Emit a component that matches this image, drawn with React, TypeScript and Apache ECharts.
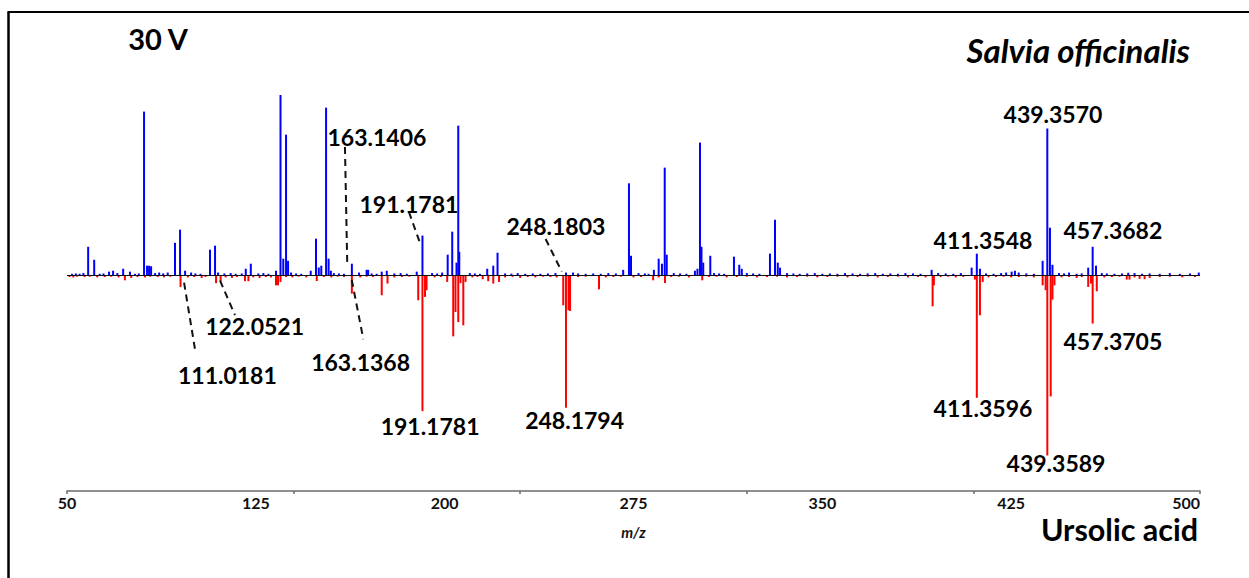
import React, { useEffect, useRef } from "react";
import * as echarts from "echarts";

// x-axis labels and tick marks (m/z)
const xLabelValues = [50, 125, 200, 275, 350, 425, 500];
const xTickValues = [50, 140, 230, 320, 410, 500];

// Salvia officinalis spectrum (upper, blue) – m/z and relative intensity (%)
const blueMz = [
  58.4, 60.8, 66.7, 68.3, 72.3, 75.0, 80.6, 81.8, 82.6, 83.4, 92.9, 94.9, 96.9,
  106.8, 108.8, 121.0, 123.0, 133.0, 134.8, 135.9, 137.0, 137.8, 146.8, 148.9,
  150.0, 151.0, 152.9, 153.9, 154.8, 163.1406, 169.0, 169.6, 175.0, 177.0, 188.9,
  191.1781, 201.2, 203.0, 204.7, 205.4, 205.8, 216.9, 219.3, 221.0, 248.1803,
  270.9, 273.2, 274.0, 283.1, 285.0, 286.3, 287.4, 288.2, 299.4, 300.4, 301.4,
  302.0, 302.7, 305.5, 314.9, 317.0, 318.0, 329.2, 331.2, 332.3, 333.2, 393.4,
  409.3, 411.3548, 412.6, 425.2, 437.5, 439.357, 440.4, 441.4, 455.6, 457.3682,
  458.7, 471.5,
];
const blueIntensity = [
  15.8, 8.6, 2.0, 2.5, 3.6, 2.0, 90.8, 5.3, 5.3, 5.0, 18.0, 25.3, 2.5,
  14.2, 16.4, 3.6, 6.4, 2.5, 100, 9.2, 78.0, 8.0, 2.5, 20.3,
  4.3, 5.3, 93.0, 9.2, 2.5, 6.4, 3.0, 3.0, 2.0, 2.5, 2.0,
  22.0, 11.4, 24.2, 7.0, 83.0, 13.0, 3.6, 5.3, 12.5, 1.5,
  3.0, 51.0, 10.8, 3.0, 9.2, 6.4, 59.7, 11.4, 2.5, 3.6, 73.6,
  15.8, 7.0, 10.8, 10.3, 5.8, 3.6, 12.0, 30.8, 7.0, 4.2, 3.0,
  4.2, 12.0, 3.6, 2.0, 8.0, 81.4, 26.4, 5.8, 4.2, 15.8,
  5.3, 1.4,
];

// Ursolic acid standard spectrum (lower, red) – m/z and relative intensity (%)
const redMz = [
  73.0, 95.1, 109.2, 111.0181, 120.7, 122.0521, 133.0, 133.8, 134.8, 149.2,
  163.1368, 175.0, 177.3, 189.5, 191.1781, 192.2, 192.8, 201.0, 203.4, 204.3,
  205.4, 206.3, 207.4, 208.3, 215.1, 217.3, 219.3, 221.6, 247.1, 248.1794, 249.2,
  249.8, 261.3, 282.8, 287.5, 302.3, 393.8, 394.3, 410.6, 411.3596, 412.6, 413.7,
  437.5, 438.7, 439.3589, 440.7, 441.4, 442.2, 455.6, 456.7, 457.3705, 459.0,
  470.9, 472.0,
];
const redIntensity = [
  -2.8, -6.5, -4.4, -3.3, -3.3, -3.3, -5.6, -5.6, -3.7, -3.2,
  -10.2, -11.1, -4.6, -13.9, -75.4, -12.0, -8.3, -3.7, -33.9, -20.4,
  -26.0, -4.4, -27.8, -3.7, -2.2, -3.3, -4.6, -3.7, -16.7, -73.5, -19.4,
  -19.8, -7.8, -2.8, -4.3, -2.8, -17.2, -5.6, -2.4, -68.0, -22.2, -3.7,
  -5.6, -8.3, -100, -67.2, -13.5, -5.6, -6.5, -4.6, -26.8, -8.9,
  -2.4, -2.4,
];

// baseline noise
const blueNoiseMz = [
  52, 53.5, 55, 56.5, 63, 64.5, 70, 77, 78.5, 85, 86.6, 88.2, 90, 99.3, 101, 103,
  110, 112.5, 115, 117, 119.4, 126, 128, 130, 139, 141, 143, 156, 158, 160, 166,
  171, 173, 180, 182.5, 185, 195, 197, 199, 210, 212, 214, 224, 226.5, 229, 232,
  235, 238, 241, 244, 251, 253, 256, 259, 262, 265, 268, 277, 279.5, 281, 291,
  293.5, 296, 307, 309, 311, 320, 322.5, 325, 336, 338.5, 341, 344, 347, 350,
  353, 356, 359, 362, 365, 368, 371, 374, 377, 380, 383, 386, 389, 396, 399, 402,
  405, 415, 418, 421, 423, 426.5, 428, 431, 434, 444, 446, 448, 451, 453, 461,
  463, 466, 469, 474, 477, 480, 484, 488, 492, 496, 499.5,
];
const blueNoiseIntensity = [
  0.8, 1.0, 0.8, 1.2, 0.8, 1.0, 1.2, 0.8, 1.0, 1.2, 1.5, 1.0, 1.5, 1.5, 1.0, 0.8,
  1.5, 1.0, 1.2, 0.8, 1.0, 1.0, 1.2, 0.8, 1.5, 1.0, 0.8, 1.2, 1.0, 0.8, 1.5,
  1.0, 0.8, 1.0, 1.2, 0.8, 1.2, 1.0, 1.5, 1.2, 1.0, 0.8, 1.0, 0.8, 1.2, 0.8,
  1.0, 0.8, 1.0, 1.2, 1.5, 1.0, 0.8, 1.0, 0.8, 1.2, 1.0, 1.2, 1.0, 0.8, 1.2,
  1.0, 0.8, 1.2, 1.0, 0.8, 1.2, 1.0, 0.8, 1.2, 1.0, 0.8, 1.0, 1.2, 0.8,
  1.0, 0.8, 1.2, 1.0, 0.8, 1.0, 1.2, 0.8, 1.0, 0.8, 1.2, 1.0, 0.8, 1.2, 1.0, 0.8,
  1.2, 1.0, 0.8, 1.2, 1.5, 2.5, 1.5, 1.0, 0.8, 1.2, 1.0, 1.5, 0.8, 1.0, 1.2,
  1.0, 0.8, 1.0, 1.2, 0.8, 1.0, 0.8, 1.2, 0.8, 1.0, 1.5,
];
const redNoiseMz = [
  51, 52.5, 54, 57, 59, 62, 65, 67.5, 70.5, 75.5, 78, 81, 83, 86, 88.5, 91, 98,
  100.5, 103.5, 105, 113, 115.5, 117.5, 124, 126.5, 129, 131, 137, 139.5, 142,
  145, 152, 155, 157.5, 160, 166.5, 169, 171.5, 180, 183, 186, 196, 198.5, 211,
  213, 224, 227, 230, 233, 236, 239, 242, 244.5, 253, 256, 264, 267, 270, 275,
  278, 285, 290, 293, 297, 305, 308, 312, 316, 320, 324, 328, 332, 336, 340, 344,
  348, 352, 356, 360, 364, 368, 372, 376, 380, 384, 388, 391, 397, 400, 403, 406,
  416, 419, 422, 425, 428, 431, 434, 445, 448, 451, 453, 462, 465, 468, 474, 476,
  478, 480, 484, 488, 493, 498,
];
const redNoiseIntensity = [
  -1.0, -1.2, -0.8, -1.0, -0.8, -1.2, -1.0, -0.8, -1.2, -1.5, -1.0, -1.2, -0.8,
  -1.0, -1.2, -0.8, -1.2, -1.0, -1.5, -1.0, -1.2, -1.5, -1.0, -1.2, -1.5, -1.0,
  -1.2, -1.0, -1.2, -0.8, -1.2, -1.0, -1.2, -0.8, -1.0, -1.2, -0.8, -1.0, -1.2,
  -1.0, -0.8, -1.2, -1.0, -1.2, -1.0, -1.2, -0.8, -1.5, -1.0, -1.2, -0.8, -1.0,
  -1.2, -1.0, -0.8, -1.2, -1.0, -0.8, -1.2, -1.0, -1.2, -1.0, -0.8, -1.2, -1.0,
  -0.8, -1.2, -1.0, -0.8, -1.2, -1.0, -0.8, -1.2, -1.0, -0.8, -1.2, -1.0, -0.8,
  -1.2, -1.0, -0.8, -1.2, -1.0, -0.8, -1.2, -1.0, -1.2, -1.0, -0.8, -1.2, -1.0,
  -1.2, -1.0, -0.8, -1.2, -1.0, -0.8, -1.2, -1.2, -1.0, -1.5, -1.0, -1.2, -1.0,
  -0.8, -1.2, -2.0, -2.2, -1.5, -1.0, -0.8, -1.2, -1.0,
];

// peak annotations: text, label centre (m/z, %), dashed leader lines
const annotationTexts = [
  "163.1406", "191.1781", "248.1803", "439.3570", "411.3548", "457.3682",
  "122.0521", "111.0181", "163.1368", "191.1781", "248.1794", "411.3596",
  "439.3589", "457.3705",
];
const annotationLabelPos = [
  [173.1, 76.7], [185.8, 39.5], [244.2, 27.6], [441.6, 89.7], [413.8, 19.6],
  [465.4, 25.1], [124.5, -28.4], [113.7, -55.1], [166.6, -47.9], [194.2, -83.9],
  [251.6, -80.3], [413.8, -73.9], [442.8, -104.2], [465.4, -36.4],
];
const leaderLines = [
  [[160.4, 71.2], [161.3, 6.6]],
  [[185.8, 35.1], [190.5, 16.8]],
  [[240.1, 20.1], [246.5, 2.0]],
  [[110.8, -3.0], [116.7, -22.1]],
  [[96.5, -4.1], [101.1, -43.3]],
  [[163.1, -2.6], [167.7, -35.5]],
];

const zip = (a: number[], b: number[]) => a.map((v, i) => [v, b[i]]);

export default function App() {
  const ref = useRef<HTMLDivElement>(null);
  useEffect(() => {
    if (!ref.current) return;
    const chart = echarts.init(ref.current, undefined, { renderer: "svg" });
    const labelFont = { fontFamily: "Lato", fontWeight: "bold" as const };
    const blueData = zip(blueMz, blueIntensity).concat(zip(blueNoiseMz, blueNoiseIntensity));
    const redData = zip(redMz, redIntensity).concat(zip(redNoiseMz, redNoiseIntensity));

    const leaderSeries = leaderLines.map((seg) => ({
      type: "line",
      data: seg,
      symbol: "none",
      silent: true,
      clip: false,
      z: 5,
      lineStyle: { color: "#111", width: 2, type: [7, 5] },
    }));

    chart.setOption({
      animation: false,
      grid: { left: 67, right: 49, top: 95, bottom: 122.5 },
      xAxis: {
        type: "value",
        min: 50,
        max: 500,
        offset: 35.5,
        splitLine: { show: false },
        axisLine: { show: true, onZero: false, lineStyle: { color: "#6b6b6b", width: 1.5 } },
        axisTick: {
          show: true,
          length: 3,
          customValues: xTickValues,
          lineStyle: { color: "#6b6b6b", width: 1.5 },
        },
        axisLabel: {
          customValues: xLabelValues,
          margin: 3,
          color: "#111",
          fontSize: 16,
          ...labelFont,
          alignMaxLabel: "right",
        },
        name: "m/z",
        nameLocation: "middle",
        nameGap: 33,
        nameTextStyle: {
          fontFamily: "Lato",
          fontStyle: "italic",
          fontWeight: "bold",
          fontSize: 15,
          color: "#111",
        },
      },
      yAxis: { type: "value", min: -100, max: 100, show: false },
      series: [
        {
          type: "bar",
          data: blueData,
          barWidth: 2,
          barGap: "-100%",
          itemStyle: { color: "#0000ff" },
          silent: true,
          z: 2,
          markLine: {
            silent: true,
            symbol: "none",
            label: { show: false },
            lineStyle: { color: "#111", width: 1.2, type: "solid" },
            data: [{ yAxis: 0 }],
          },
        },
        {
          type: "bar",
          data: redData,
          barWidth: 2,
          barGap: "-100%",
          itemStyle: { color: "#ff0000" },
          silent: true,
          z: 3,
        },
        ...leaderSeries,
        {
          type: "scatter",
          clip: false,
          symbolSize: 1,
          itemStyle: { color: "transparent", opacity: 1 },
          silent: true,
          z: 6,
          data: annotationTexts.map((t, i) => ({
            value: annotationLabelPos[i],
            label: {
              show: true,
              position: "inside",
              formatter: t,
              color: "#000",
              opacity: 1,
              textBorderWidth: 0,
              fontSize: 23,
              ...labelFont,
            },
          })),
        },
      ],
      graphic: [
        { type: "line", shape: { x1: 8.5, y1: 12, x2: 8.5, y2: 578 }, style: { stroke: "#000", lineWidth: 2.5 } },
        { type: "line", shape: { x1: 7.5, y1: 12, x2: 1249, y2: 12 }, style: { stroke: "#000", lineWidth: 2 } },
        {
          type: "text",
          x: 158,
          y: 38,
          style: { text: "30 V", align: "center", verticalAlign: "middle", fontSize: 29, fill: "#000", ...labelFont },
        },
        {
          type: "text",
          x: 1190,
          y: 50,
          style: {
            text: "Salvia officinalis",
            align: "right",
            verticalAlign: "middle",
            fontSize: 33,
            fontStyle: "italic",
            fill: "#000",
            ...labelFont,
          },
        },
        {
          type: "text",
          x: 1198,
          y: 529,
          style: { text: "Ursolic acid", align: "right", verticalAlign: "middle", fontSize: 30.5, fill: "#000", ...labelFont },
        },
      ],
    });
    return () => chart.dispose();
  }, []);
  return (
    <div
      ref={ref}
      style={{ position: "fixed", left: 0, top: 0, width: 1249, height: 578, background: "#fff" }}
    />
  );
}
